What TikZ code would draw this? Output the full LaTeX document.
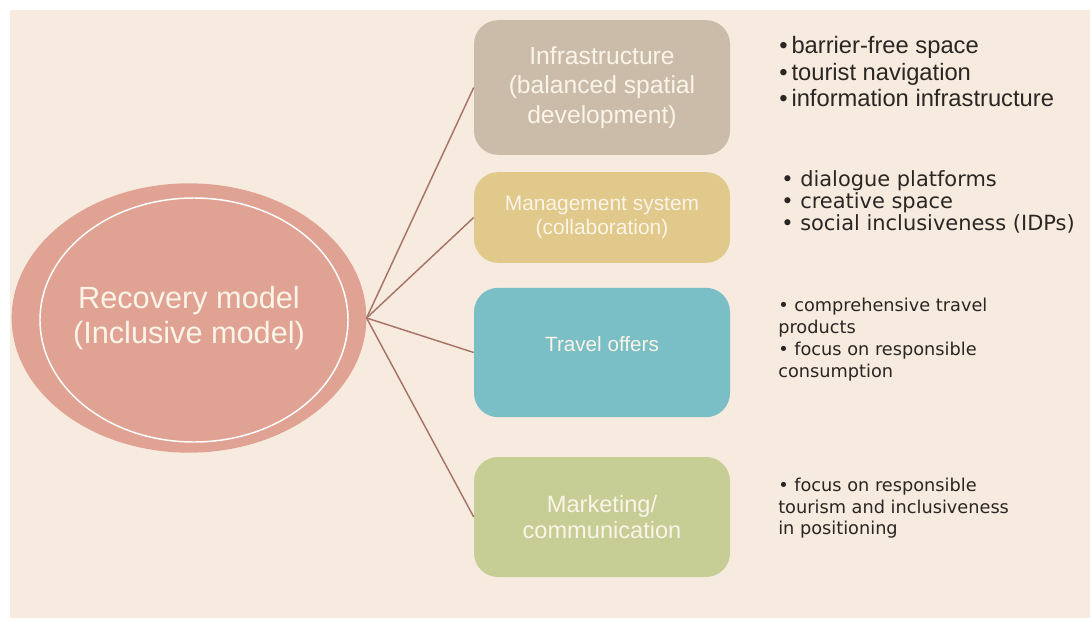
\documentclass[tikz,border=0pt]{standalone}
\usepackage{fontspec}
\setmainfont{Liberation Sans}
\newfontfamily\verd{DejaVu Sans}
\usetikzlibrary{shapes.geometric}
\definecolor{bg}{HTML}{F7EBDF}
\definecolor{ovalc}{HTML}{E0A393}
\definecolor{infc}{HTML}{CBBCAA}
\definecolor{mgmc}{HTML}{E0C98A}
\definecolor{trvc}{HTML}{79BFC5}
\definecolor{mktc}{HTML}{C6CE96}
\definecolor{linkc}{HTML}{A87468}
\definecolor{boxtxt}{HTML}{FBF4E8}
\definecolor{notetxt}{HTML}{2A2623}
\begin{document}
\begin{tikzpicture}[x=0.75pt,y=-0.75pt,
  box/.style={rounded corners=18pt,minimum width=192pt,text=boxtxt,align=center,inner sep=0pt},
  note/.style={anchor=north west,align=left,inner sep=0pt,text=notetxt}]
\useasboundingbox (0,0) rectangle (1090,618);
\fill[bg] (10,10) rectangle (1090,618);
% hub
\node(0)[ellipse,fill=ovalc,minimum width=266pt,minimum height=202pt,text=boxtxt,align=center,
  font=\fontsize{23}{26}\selectfont] at (189,318) {Recovery model\\(Inclusive model)};
\node(0i)[ellipse,draw=white,line width=1.1pt,minimum width=231pt,minimum height=183pt] at (194,320) {};
% boxes
\node(1)[box,fill=infc,minimum height=101pt,font=\fontsize{18.5}{22}\selectfont] at (602,87.5)
  {Infrastructure\\(balanced spatial\\development)};
\node(2)[box,fill=mgmc,minimum height=68pt,font=\fontsize{15.7}{18}\selectfont] at (602,217.5)
  {Management system\\(collaboration)};
\node(3)[box,fill=trvc,minimum height=97pt,font=\fontsize{15.5}{18}\selectfont] at (602,352.5)
  {\raisebox{6.5pt}[\height][\depth]{Travel offers}};
\node(4)[box,fill=mktc,minimum height=90pt,font=\fontsize{17.7}{20}\selectfont] at (602,517)
  {Marketing/\\communication};
\path[linkc,line width=1.1pt] (0.east) edge (1.west) edge (2.west) edge (3.west) edge (4.west);
% notes
\node(n1)[note,font=\fontsize{17.8}{20}\selectfont] at (779,36)
  {\textbullet\,barrier-free space\\\textbullet\,tourist navigation\\\textbullet\,information infrastructure};
\node(n2)[note,font=\verd\fontsize{15.7}{16.5}\selectfont] at (781,170)
  {\textbullet\ dialogue platforms\\\textbullet\ creative space\\\textbullet\ social inclusiveness (IDPs)};
\node(n3)[note,font=\verd\fontsize{13.3}{16.5}\selectfont] at (778,298)
  {\textbullet\ comprehensive travel\\products\\\textbullet\ focus on responsible\\consumption};
\node(n4)[note,font=\verd\fontsize{13.3}{16.2}\selectfont] at (778,478)
  {\textbullet\ focus on responsible\\tourism and inclusiveness\\in positioning};
\end{tikzpicture}
\end{document}
